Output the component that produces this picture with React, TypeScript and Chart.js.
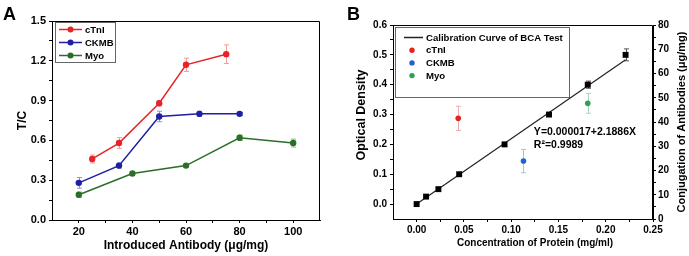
import { useEffect, useRef } from 'react';
import { Chart, registerables } from 'chart.js';
Chart.register(...registerables);

const FONT = "'Liberation Sans', Arial, sans-serif";

// ---------- Panel A data ----------
const aCtniX = [25, 35, 50, 60, 75];
const aCtniY = [0.46, 0.58, 0.88, 1.17, 1.25];
const aCtniErr = [0.03, 0.04, 0.02, 0.05, 0.07];
const aCkmbX = [20, 35, 50, 65, 80];
const aCkmbY = [0.28, 0.41, 0.78, 0.8, 0.8];
const aCkmbErr = [0.04, 0.02, 0.04, 0.02, 0.01];
const aMyoX = [20, 40, 60, 80, 100];
const aMyoY = [0.19, 0.35, 0.41, 0.62, 0.58];
const aMyoErr = [0.02, 0.01, 0.01, 0.02, 0.03];
const aXMajor = [20, 40, 60, 80, 100];
const aXMinor = [30, 50, 70, 90];
const aYMajor = [0, 0.3, 0.6, 0.9, 1.2, 1.5];
const aYMinor = [0.15, 0.45, 0.75, 1.05, 1.35];

// ---------- Panel B data ----------
const bCalX = [0, 0.01, 0.023, 0.045, 0.093, 0.14, 0.181, 0.221];
const bCalY = [0, 0.025, 0.05, 0.1, 0.2, 0.3, 0.4, 0.5];
const bCalErr = [0, 0, 0, 0, 0, 0, 0.012, 0.02];
const bFitX = [0, 0.221];
const bFitY = [0.000017, 0.4837];
const bCtniX = [0.044];
const bCtniY = [41.5];
const bCtniErr = [5.0];
const bCkmbX = [0.113];
const bCkmbY = [23.9];
const bCkmbErr = [4.8];
const bMyoX = [0.181];
const bMyoY = [47.7];
const bMyoErr = [4.1];
const bXMajor = [0, 0.05, 0.1, 0.15, 0.2, 0.25];
const bXMinor = [0.025, 0.075, 0.125, 0.175, 0.225];
const bYMajor = [0, 0.1, 0.2, 0.3, 0.4, 0.5, 0.6];
const bYMinor = [0.05, 0.15, 0.25, 0.35, 0.45, 0.55];
const bY2Major = [0, 10, 20, 30, 40, 50, 60, 70, 80];
const bY2Minor = [5, 15, 25, 35, 45, 55, 65, 75];

const pts = (xs: number[], ys: number[]) => xs.map((x, i) => ({ x, y: ys[i] }));

const errorBars = {
  id: 'errorBars',
  beforeDatasetsDraw(chart: any) {
    const ctx = chart.ctx;
    chart.data.datasets.forEach((ds: any, di: number) => {
      if (!ds.errors) return;
      const meta = chart.getDatasetMeta(di);
      const ys = chart.scales[meta.yAxisID];
      ctx.save();
      ctx.strokeStyle = ds.errorColor;
      ctx.lineWidth = 1;
      meta.data.forEach((el: any, i: number) => {
        const e = ds.errors[i];
        if (!e) return;
        const v = ds.data[i].y;
        const x = Math.round(el.x) + 0.5;
        const y1 = ys.getPixelForValue(v + e);
        const y2 = ys.getPixelForValue(v - e);
        ctx.beginPath();
        ctx.moveTo(x, y1);
        ctx.lineTo(x, y2);
        ctx.moveTo(x - 2.5, y1);
        ctx.lineTo(x + 2.5, y1);
        ctx.moveTo(x - 2.5, y2);
        ctx.lineTo(x + 2.5, y2);
        ctx.stroke();
      });
      ctx.restore();
    });
  },
};

const frame = {
  id: 'frame',
  afterDatasetsDraw(chart: any) {
    const { ctx, chartArea: a } = chart;
    ctx.save();
    ctx.strokeStyle = '#000';
    ctx.lineWidth = 1;
    ctx.beginPath();
    ctx.moveTo(Math.round(a.left) + 0.5, Math.round(a.top) + 0.5);
    ctx.lineTo(Math.round(a.right) - 0.5, Math.round(a.top) + 0.5);
    ctx.lineTo(Math.round(a.right) - 0.5, Math.round(a.bottom));
    ctx.stroke();
    ctx.restore();
  },
};

function tickFont(size: number) {
  return { family: FONT, size, weight: 'bold' as const };
}

function axis(opts: any) {
  const { min, max, major, minor, fmt, size, fitKey, fitVal, title, titleSize, titlePad, tickLen, tickPad, position } = opts;
  return {
    type: 'linear',
    position,
    min,
    max,
    afterFit: (s: any) => {
      s[fitKey] = fitVal;
    },
    afterBuildTicks: (s: any) => {
      s.ticks = [...major, ...minor].sort((a: number, b: number) => a - b).map((v: number) => ({ value: v }));
    },
    ticks: {
      autoSkip: false,
      maxRotation: 0,
      padding: tickPad,
      color: '#000',
      font: tickFont(size),
      callback: (v: number) => (major.includes(v) ? fmt(v) : ''),
    },
    grid: { drawOnChartArea: false, tickLength: tickLen, tickColor: '#000', tickWidth: 1 },
    border: { display: true, color: '#000', width: 1 },
    title: title
      ? { display: true, text: title, color: '#000', font: tickFont(titleSize), padding: titlePad }
      : { display: false },
  };
}

function rotText(ctx: any, text: string, x: number, y: number) {
  ctx.save();
  ctx.translate(x, y);
  ctx.rotate(-Math.PI / 2);
  ctx.textAlign = 'center';
  ctx.textBaseline = 'middle';
  ctx.fillText(text, 0, 0);
  ctx.restore();
}

export default function App() {
  const aRef = useRef<HTMLCanvasElement>(null);
  const bRef = useRef<HTMLCanvasElement>(null);

  useEffect(() => {
    const legendA = {
      id: 'legendA',
      afterDraw(chart: any) {
        const ctx = chart.ctx;
        ctx.save();
        ctx.fillStyle = '#fff';
        ctx.fillRect(55.5, 22.5, 60, 40);
        ctx.strokeStyle = '#666';
        ctx.lineWidth = 1;
        ctx.strokeRect(55.5, 22.5, 60, 40);
        chart.data.datasets.forEach((ds: any, i: number) => {
          const y = 29.5 + i * 13;
          ctx.strokeStyle = ds.borderColor;
          ctx.lineWidth = 1.5;
          ctx.beginPath();
          ctx.moveTo(59, y);
          ctx.lineTo(82, y);
          ctx.stroke();
          ctx.fillStyle = ds.backgroundColor;
          ctx.beginPath();
          ctx.arc(70.5, y, 3, 0, Math.PI * 2);
          ctx.fill();
          ctx.fillStyle = '#000';
          ctx.font = `bold 9.5px ${FONT}`;
          ctx.textBaseline = 'middle';
          ctx.textAlign = 'left';
          ctx.fillText(ds.label, 85, y + 0.5);
        });
        ctx.font = `bold 18px ${FONT}`;
        ctx.textBaseline = 'alphabetic';
        ctx.fillText('A', 3, 20);
        ctx.restore();
      },
    };

    const legendB = {
      id: 'legendB',
      afterDraw(chart: any) {
        const ctx = chart.ctx;
        const { x, y } = chart.scales;
        ctx.save();
        ctx.strokeStyle = '#666';
        ctx.lineWidth = 1;
        ctx.strokeRect(51.5, 27.5, 174, 70);
        const rows = chart.data.datasets.filter((d: any) => d.inLegend);
        rows.forEach((ds: any, i: number) => {
          const ry = 37.5 + i * 12.7;
          if (ds.showLine) {
            ctx.strokeStyle = ds.borderColor;
            ctx.lineWidth = 1.5;
            ctx.beginPath();
            ctx.moveTo(60, ry);
            ctx.lineTo(79, ry);
            ctx.stroke();
          } else {
            ctx.fillStyle = ds.backgroundColor;
            ctx.beginPath();
            ctx.arc(68, ry, 2.7, 0, Math.PI * 2);
            ctx.fill();
          }
          ctx.fillStyle = '#000';
          ctx.font = `bold 9.6px ${FONT}`;
          ctx.textBaseline = 'middle';
          ctx.textAlign = 'left';
          ctx.fillText(ds.label, 82, ry + 0.5);
        });
        ctx.font = `bold 10.5px ${FONT}`;
        ctx.textBaseline = 'middle';
        ctx.fillText('Y=0.000017+2.1886X', x.getPixelForValue(0.124), y.getPixelForValue(0.241));
        ctx.fillText('R²=0.9989', x.getPixelForValue(0.124), y.getPixelForValue(0.198));
        // axis titles
        ctx.font = `bold 12.5px ${FONT}`;
        rotText(ctx, 'Optical Density', 18, 115);
        ctx.font = `bold 11px ${FONT}`;
        rotText(ctx, 'Conjugation of Antibodies (μg/mg)', 338, 122);
        ctx.font = `bold 10px ${FONT}`;
        ctx.textAlign = 'center';
        ctx.textBaseline = 'middle';
        ctx.fillText('Concentration of Protein (mg/ml)', 191, 243);
        ctx.font = `bold 18px ${FONT}`;
        ctx.textAlign = 'left';
        ctx.textBaseline = 'alphabetic';
        ctx.fillText('B', 3, 20);
        ctx.restore();
      },
    };

    const lineDs = (label: string, xs: number[], ys: number[], errs: number[], color: string, errColor: string) => ({
      label,
      data: pts(xs, ys),
      showLine: true,
      borderColor: color,
      backgroundColor: color,
      borderWidth: 1.5,
      pointRadius: 3.2,
      pointBorderWidth: 0,
      pointHoverRadius: 3.2,
      errors: errs,
      errorColor: errColor,
    });

    const chartA = new Chart(aRef.current!, {
      type: 'scatter',
      data: {
        datasets: [
          lineDs('cTnI', aCtniX, aCtniY, aCtniErr, '#e8232a', '#f29a9c'),
          lineDs('CKMB', aCkmbX, aCkmbY, aCkmbErr, '#1f1fa6', '#8f8fe0'),
          lineDs('Myo', aMyoX, aMyoY, aMyoErr, '#2b6e27', '#8fbf8a'),
        ] as any,
      },
      options: {
        responsive: false,
        animation: false,
        devicePixelRatio: 1,
        layout: { padding: { left: 0, top: 21, right: 24, bottom: 0 } },
        plugins: { legend: { display: false }, tooltip: { enabled: false } },
        scales: {
          x: axis({
            position: 'bottom', min: 10, max: 110, major: aXMajor, minor: aXMinor, fmt: (v: number) => String(v),
            size: 11, fitKey: 'height', fitVal: 36, title: 'Introduced Antibody (μg/mg)', titleSize: 12,
            titlePad: { top: 0, bottom: 3 }, tickLen: 3, tickPad: 2,
          }),
          y: axis({
            position: 'left', min: 0, max: 1.5, major: aYMajor, minor: aYMinor, fmt: (v: number) => v.toFixed(1),
            size: 11, fitKey: 'width', fitVal: 52, title: 'T/C', titleSize: 12,
            titlePad: { top: 15, bottom: 0 }, tickLen: 3, tickPad: 3,
          }),
        } as any,
      },
      plugins: [errorBars, frame, legendA],
    });

    const dotDs = (label: string, xs: number[], ys: number[], errs: number[], color: string, errColor: string) => ({
      label,
      data: pts(xs, ys),
      yAxisID: 'y2',
      showLine: false,
      borderColor: color,
      backgroundColor: color,
      pointRadius: 2.8,
      pointBorderWidth: 0,
      pointHoverRadius: 2.8,
      errors: errs,
      errorColor: errColor,
      inLegend: true,
    });

    const chartB = new Chart(bRef.current!, {
      type: 'scatter',
      data: {
        datasets: [
          {
            label: 'BCA',
            data: pts(bCalX, bCalY),
            yAxisID: 'y',
            showLine: false,
            pointStyle: 'rect',
            pointRadius: 4.2,
            pointHoverRadius: 4.2,
            pointBorderWidth: 0,
            backgroundColor: '#000',
            borderColor: '#000',
            errors: bCalErr,
            errorColor: '#555',
          },
          {
            label: 'Calibration Curve of BCA Test',
            data: pts(bFitX, bFitY),
            yAxisID: 'y',
            showLine: true,
            borderColor: '#222',
            backgroundColor: '#222',
            borderWidth: 1.2,
            pointRadius: 0,
            pointHoverRadius: 0,
            inLegend: true,
          },
          dotDs('cTnI', bCtniX, bCtniY, bCtniErr, '#e3231f', '#e8b0b0'),
          dotDs('CKMB', bCkmbX, bCkmbY, bCkmbErr, '#2163cc', '#a8c0e8'),
          dotDs('Myo', bMyoX, bMyoY, bMyoErr, '#2f9e5c', '#a8d8b8'),
        ] as any,
      },
      options: {
        responsive: false,
        animation: false,
        devicePixelRatio: 1,
        layout: { padding: { left: 0, top: 25, right: 0, bottom: 0 } },
        plugins: { legend: { display: false }, tooltip: { enabled: false } },
        scales: {
          x: axis({
            position: 'bottom', min: -0.025, max: 0.25, major: bXMajor, minor: bXMinor, fmt: (v: number) => v.toFixed(2),
            size: 10, fitKey: 'height', fitVal: 37, title: null, tickLen: 3, tickPad: 2,
          }),
          y: axis({
            position: 'left', min: -0.05, max: 0.6, major: bYMajor, minor: bYMinor, fmt: (v: number) => v.toFixed(1),
            size: 10, fitKey: 'width', fitVal: 49, title: null, tickLen: 3, tickPad: 3,
          }),
          y2: axis({
            position: 'right', min: 0, max: 80, major: bY2Major, minor: bY2Minor, fmt: (v: number) => String(v),
            size: 10, fitKey: 'width', fitVal: 36, title: null, tickLen: 3, tickPad: 2,
          }),
        } as any,
      },
      plugins: [errorBars, frame, legendB],
    });

    return () => {
      chartA.destroy();
      chartB.destroy();
    };
  }, []);

  return (
    <div style={{ position: 'fixed', left: 0, top: 0, width: 689, height: 256, background: '#fff', overflow: 'hidden' }}>
      <canvas ref={aRef} width={344} height={256} style={{ position: 'absolute', left: 0, top: 0, width: 344, height: 256 }} />
      <canvas ref={bRef} width={345} height={256} style={{ position: 'absolute', left: 344, top: 0, width: 345, height: 256 }} />
    </div>
  );
}
